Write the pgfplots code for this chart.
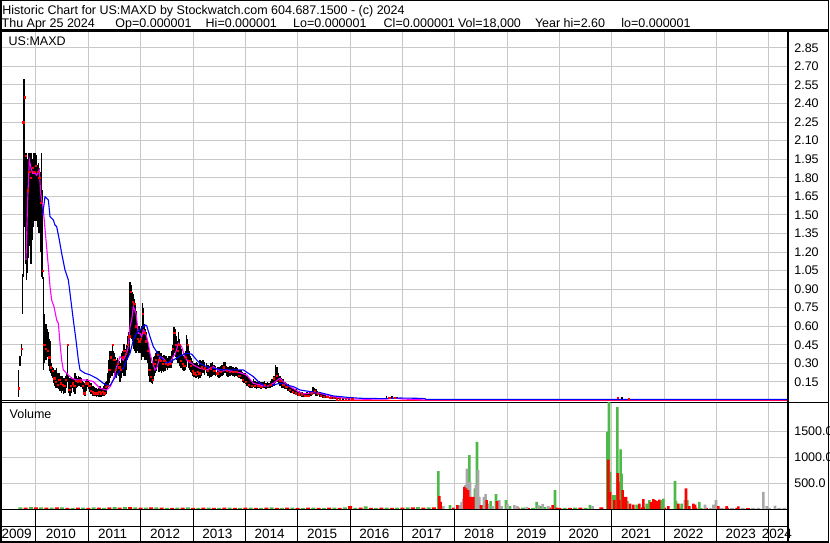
\documentclass[border=0pt]{standalone}
\usepackage{pgfplots}
\pgfplotsset{compat=1.18}
\usepackage{pgfplotstable}
\usepackage{fontspec}
\setmainfont{Liberation Sans}
\definecolor{gridgray}{RGB}{200,200,200}
\definecolor{volgreen}{RGB}{76,185,72}
\definecolor{volgray}{RGB}{168,168,168}
\definecolor{mamag}{RGB}{255,0,255}
\definecolor{mablue}{RGB}{0,0,255}

% price bars: x = year, lo, hi, cl
\pgfplotstableread{
x lo hi cl
2009.663 0.03 0.25 0.10
2009.694 0.28 0.36 0.33
2009.726 0.36 0.46 0.42
2009.745 0.70 1.02 0.80
2009.758 1.00 2.27 2.25
2009.770 1.40 2.60 2.58
2009.783 1.60 2.50 2.45
2009.796 1.14 2.00 2.00
2009.809 1.10 2.00 1.98
2009.822 0.97 2.00 1.50
2009.838 1.03 1.95 1.70
2009.854 1.15 2.00 1.98
2009.870 1.25 1.95 1.85
2009.885 1.27 2.00 1.98
2009.901 1.10 1.90 1.80
2009.917 1.35 2.00 1.98
2009.933 1.30 1.95 1.88
2009.949 1.40 2.00 1.96
2009.965 1.50 1.98 1.85
2009.981 1.45 2.00 1.98
2009.997 1.55 1.95 1.90
2010.013 1.45 1.98 1.95
2010.029 1.40 1.90 1.85
2010.045 1.50 1.92 1.82
2010.061 1.35 1.88 1.80
2010.076 1.40 1.85 1.75
2010.092 1.20 1.75 1.60
2010.108 1.00 2.00 1.45
2010.124 0.98 1.70 1.05
2010.140 0.25 1.00 0.70
2010.156 0.30 0.70 0.45
2010.172 0.33 0.62 0.55
2010.188 0.35 0.62 0.42
2010.204 0.33 0.60 0.50
2010.220 0.35 0.58 0.40
2010.236 0.33 0.55 0.45
2010.252 0.28 0.50 0.35
2010.268 0.24 0.48 0.30
2010.284 0.22 0.30 0.27
2010.299 0.20 0.28 0.25
2010.315 0.18 0.27 0.24
2010.331 0.16 0.26 0.25
2010.347 0.14 0.24 0.18
2010.363 0.12 0.25 0.20
2010.379 0.10 0.22 0.15
2010.395 0.12 0.26 0.25
2010.411 0.10 0.22 0.13
2010.427 0.09 0.20 0.15
2010.443 0.12 0.22 0.17
2010.459 0.08 0.19 0.12
2010.475 0.10 0.20 0.14
2010.490 0.06 0.18 0.10
2010.506 0.08 0.20 0.13
2010.522 0.05 0.16 0.08
2010.538 0.08 0.18 0.12
2010.554 0.06 0.15 0.10
2010.570 0.10 0.20 0.17
2010.586 0.12 0.22 0.21
2010.602 0.15 0.46 0.45
2010.618 0.10 0.20 0.15
2010.634 0.06 0.17 0.09
2010.650 0.04 0.18 0.08
2010.666 0.08 0.16 0.12
2010.682 0.06 0.19 0.10
2010.698 0.10 0.18 0.14
2010.713 0.07 0.17 0.12
2010.729 0.08 0.15 0.12
2010.745 0.05 0.22 0.10
2010.761 0.10 0.18 0.16
2010.777 0.12 0.20 0.17
2010.793 0.11 0.18 0.15
2010.809 0.12 0.20 0.18
2010.825 0.12 0.18 0.16
2010.841 0.13 0.19 0.17
2010.857 0.11 0.17 0.15
2010.873 0.12 0.18 0.16
2010.889 0.09 0.16 0.12
2010.904 0.06 0.15 0.09
2010.920 0.05 0.14 0.06
2010.936 0.04 0.12 0.06
2010.952 0.08 0.16 0.14
2010.968 0.10 0.17 0.15
2010.984 0.11 0.17 0.14
2011.000 0.10 0.16 0.13
2011.016 0.09 0.15 0.12
2011.032 0.07 0.14 0.10
2011.048 0.05 0.13 0.08
2011.064 0.06 0.14 0.09
2011.080 0.04 0.12 0.07
2011.095 0.05 0.12 0.08
2011.111 0.04 0.11 0.06
2011.127 0.05 0.10 0.08
2011.143 0.04 0.09 0.06
2011.159 0.03 0.10 0.05
2011.175 0.04 0.09 0.06
2011.191 0.03 0.08 0.05
2011.207 0.04 0.10 0.07
2011.223 0.03 0.12 0.06
2011.239 0.04 0.10 0.06
2011.255 0.03 0.09 0.05
2011.271 0.04 0.10 0.07
2011.286 0.05 0.12 0.08
2011.302 0.04 0.11 0.06
2011.318 0.06 0.14 0.10
2011.334 0.05 0.15 0.11
2011.350 0.08 0.16 0.13
2011.366 0.09 0.22 0.12
2011.382 0.12 0.25 0.20
2011.398 0.14 0.33 0.25
2011.414 0.18 0.40 0.30
2011.430 0.20 0.38 0.35
2011.446 0.22 0.40 0.38
2011.462 0.20 0.46 0.45
2011.477 0.24 0.40 0.30
2011.493 0.22 0.38 0.33
2011.509 0.20 0.35 0.28
2011.525 0.21 0.33 0.25
2011.541 0.18 0.32 0.22
2011.557 0.22 0.34 0.30
2011.573 0.20 0.30 0.25
2011.589 0.21 0.32 0.27
2011.605 0.15 0.28 0.20
2011.621 0.18 0.30 0.25
2011.637 0.20 0.38 0.30
2011.652 0.22 0.40 0.35
2011.668 0.20 0.42 0.25
2011.684 0.25 0.46 0.40
2011.700 0.20 0.40 0.30
2011.716 0.25 0.42 0.38
2011.732 0.27 0.45 0.40
2011.748 0.33 0.52 0.45
2011.764 0.35 0.50 0.48
2011.780 0.38 0.55 0.52
2011.796 0.52 0.96 0.95
2011.812 0.55 0.93 0.88
2011.828 0.50 0.90 0.85
2011.844 0.48 0.88 0.80
2011.860 0.45 0.86 0.75
2011.876 0.42 0.82 0.78
2011.891 0.40 0.78 0.70
2011.907 0.38 0.72 0.60
2011.923 0.38 0.62 0.55
2011.939 0.40 0.60 0.50
2011.955 0.40 0.58 0.52
2011.971 0.38 0.60 0.48
2011.987 0.40 0.58 0.55
2012.003 0.38 0.56 0.50
2012.019 0.33 0.60 0.55
2012.035 0.35 0.79 0.70
2012.050 0.35 0.75 0.68
2012.066 0.40 0.62 0.55
2012.082 0.33 0.58 0.50
2012.098 0.35 0.55 0.48
2012.114 0.33 0.52 0.45
2012.130 0.30 0.50 0.40
2012.146 0.25 0.46 0.35
2012.162 0.20 0.40 0.25
2012.178 0.15 0.35 0.20
2012.194 0.16 0.30 0.19
2012.210 0.14 0.28 0.18
2012.226 0.13 0.30 0.17
2012.242 0.17 0.33 0.25
2012.257 0.20 0.35 0.30
2012.273 0.22 0.36 0.28
2012.289 0.24 0.38 0.33
2012.305 0.25 0.40 0.35
2012.321 0.27 0.40 0.37
2012.337 0.25 0.38 0.30
2012.353 0.23 0.40 0.33
2012.369 0.24 0.36 0.30
2012.385 0.26 0.38 0.32
2012.401 0.22 0.35 0.28
2012.417 0.24 0.36 0.30
2012.433 0.23 0.35 0.27
2012.449 0.25 0.37 0.32
2012.464 0.24 0.34 0.28
2012.480 0.26 0.36 0.30
2012.496 0.27 0.35 0.31
2012.512 0.25 0.34 0.29
2012.528 0.27 0.36 0.32
2012.544 0.26 0.33 0.30
2012.560 0.28 0.36 0.33
2012.576 0.26 0.34 0.30
2012.592 0.28 0.40 0.36
2012.608 0.30 0.45 0.42
2012.624 0.35 0.56 0.52
2012.640 0.38 0.59 0.55
2012.656 0.40 0.58 0.48
2012.672 0.35 0.52 0.45
2012.687 0.33 0.50 0.42
2012.703 0.30 0.48 0.40
2012.719 0.32 0.55 0.50
2012.735 0.30 0.50 0.45
2012.751 0.28 0.45 0.35
2012.767 0.26 0.42 0.32
2012.783 0.27 0.38 0.33
2012.799 0.25 0.37 0.30
2012.815 0.26 0.36 0.32
2012.831 0.24 0.35 0.28
2012.847 0.25 0.38 0.33
2012.863 0.27 0.40 0.35
2012.878 0.30 0.53 0.50
2012.894 0.32 0.50 0.45
2012.910 0.28 0.45 0.38
2012.926 0.26 0.40 0.32
2012.942 0.25 0.36 0.30
2012.958 0.23 0.34 0.28
2012.974 0.22 0.33 0.26
2012.990 0.20 0.32 0.24
2013.006 0.21 0.30 0.25
2013.022 0.19 0.29 0.22
2013.038 0.20 0.30 0.24
2013.054 0.18 0.28 0.21
2013.070 0.20 0.31 0.25
2013.086 0.19 0.30 0.23
2013.102 0.17 0.28 0.20
2013.118 0.18 0.29 0.22
2013.133 0.18 0.33 0.25
2013.163 0.20 0.32 0.27
2013.193 0.22 0.33 0.28
2013.223 0.21 0.31 0.26
2013.253 0.22 0.30 0.25
2013.283 0.20 0.29 0.24
2013.313 0.18 0.28 0.21
2013.343 0.19 0.30 0.26
2013.373 0.20 0.31 0.27
2013.403 0.21 0.29 0.24
2013.433 0.20 0.28 0.23
2013.463 0.19 0.27 0.22
2013.493 0.18 0.27 0.21
2013.523 0.19 0.28 0.23
2013.553 0.20 0.29 0.25
2013.583 0.21 0.31 0.27
2013.613 0.22 0.31 0.26
2013.643 0.20 0.28 0.24
2013.673 0.19 0.27 0.22
2013.703 0.20 0.28 0.23
2013.733 0.21 0.28 0.24
2013.763 0.20 0.27 0.23
2013.793 0.19 0.26 0.22
2013.823 0.20 0.27 0.23
2013.853 0.19 0.26 0.21
2013.883 0.18 0.25 0.20
2013.913 0.17 0.25 0.19
2013.943 0.15 0.23 0.17
2013.973 0.14 0.22 0.16
2014.003 0.13 0.22 0.15
2014.033 0.12 0.20 0.14
2014.063 0.11 0.19 0.13
2014.093 0.10 0.17 0.12
2014.123 0.10 0.16 0.12
2014.153 0.11 0.17 0.13
2014.183 0.10 0.16 0.12
2014.213 0.09 0.15 0.11
2014.243 0.10 0.15 0.12
2014.273 0.10 0.16 0.12
2014.303 0.09 0.15 0.11
2014.333 0.10 0.15 0.12
2014.363 0.10 0.16 0.13
2014.393 0.09 0.14 0.11
2014.423 0.10 0.15 0.12
2014.453 0.10 0.14 0.12
2014.483 0.10 0.16 0.13
2014.513 0.11 0.17 0.14
2014.543 0.12 0.20 0.18
2014.573 0.14 0.29 0.25
2014.603 0.15 0.27 0.20
2014.633 0.13 0.22 0.18
2014.663 0.12 0.20 0.16
2014.693 0.10 0.18 0.14
2014.723 0.10 0.17 0.13
2014.753 0.09 0.15 0.11
2014.783 0.09 0.14 0.11
2014.813 0.08 0.13 0.10
2014.843 0.07 0.12 0.09
2014.873 0.06 0.11 0.08
2014.903 0.06 0.10 0.07
2014.933 0.05 0.09 0.07
2014.963 0.05 0.09 0.06
2014.993 0.04 0.08 0.06
2015.023 0.04 0.08 0.05
2015.053 0.04 0.07 0.05
2015.083 0.03 0.07 0.05
2015.113 0.03 0.06 0.04
2015.143 0.03 0.06 0.04
2015.173 0.04 0.07 0.05
2015.203 0.03 0.06 0.04
2015.233 0.04 0.07 0.05
2015.263 0.04 0.08 0.06
2015.293 0.05 0.11 0.09
2015.323 0.05 0.10 0.08
2015.353 0.04 0.09 0.07
2015.383 0.04 0.08 0.06
2015.413 0.03 0.07 0.05
2015.443 0.03 0.06 0.04
2015.473 0.02 0.05 0.04
2015.503 0.02 0.05 0.03
2015.533 0.02 0.05 0.03
2015.563 0.02 0.04 0.03
2015.593 0.02 0.04 0.03
2015.623 0.01 0.04 0.02
2015.653 0.01 0.04 0.02
2015.683 0.01 0.03 0.02
2015.713 0.01 0.03 0.02
2015.743 0.01 0.03 0.01
2015.773 0.01 0.03 0.01
2015.803 0.00 0.02 0.01
2015.863 0.00 0.02 0.01
2015.923 0.00 0.02 0.01
2015.983 0.00 0.02 0.01
2016.043 0.00 0.02 0.01
2016.700 0.01 0.035 0.02
2016.750 0.01 0.03 0.02
2016.800 0.01 0.035 0.02
2016.850 0.01 0.03 0.02
2016.900 0.01 0.03 0.02
2021.120 0.00 0.025 0.02
2021.200 0.00 0.025 0.01
2021.330 0.00 0.020 0.01
}\bars

% short moving average (magenta)
\pgfplotstableread{
x v
2009.809 1.136
2009.841 1.620
2009.873 1.944
2009.898 1.890
2009.936 1.836
2009.981 1.836
2010.013 1.820
2010.064 1.863
2010.089 1.674
2010.140 1.540
2010.191 1.297
2010.236 1.082
2010.268 0.920
2010.299 0.812
2010.344 0.759
2010.395 0.651
2010.427 0.624
2010.459 0.462
2010.490 0.327
2010.522 0.247
2010.586 0.220
2010.682 0.180
2010.777 0.166
2010.968 0.166
2011.095 0.153
2011.223 0.099
2011.350 0.085
2011.414 0.110
2011.477 0.166
2011.541 0.274
2011.605 0.354
2011.668 0.327
2011.732 0.381
2011.764 0.435
2011.796 0.597
2011.828 0.650
2011.860 0.759
2011.911 0.705
2011.955 0.543
2011.987 0.543
2012.019 0.516
2012.051 0.570
2012.082 0.556
2012.114 0.516
2012.146 0.462
2012.178 0.381
2012.210 0.327
2012.242 0.290
2012.273 0.247
2012.305 0.260
2012.369 0.354
2012.433 0.340
2012.497 0.305
2012.560 0.300
2012.624 0.360
2012.656 0.370
2012.720 0.462
2012.783 0.435
2012.847 0.345
2012.911 0.314
2012.974 0.300
2013.006 0.287
2013.133 0.260
2013.261 0.247
2013.388 0.273
2013.516 0.233
2013.643 0.247
2013.770 0.233
2013.898 0.225
2014.025 0.206
2014.153 0.139
2014.280 0.126
2014.407 0.112
2014.535 0.139
2014.662 0.180
2014.726 0.152
2014.853 0.112
2014.980 0.080
2015.108 0.053
2015.299 0.064
2015.426 0.058
2015.681 0.031
2015.999 0.012
2016.318 0.010
2016.700 0.012
2016.850 0.020
2017.000 0.012
2017.400 0.005
2024.360 0.005
}\maA

% long moving average (blue)
\pgfplotstableread{
x v
2010.127 1.500
2010.172 1.647
2010.204 1.634
2010.236 1.620
2010.268 1.486
2010.331 1.459
2010.363 1.418
2010.395 1.405
2010.446 1.297
2010.490 1.190
2010.554 1.055
2010.618 0.974
2010.650 0.866
2010.713 0.651
2010.764 0.489
2010.809 0.327
2010.841 0.247
2010.936 0.220
2011.032 0.207
2011.159 0.180
2011.223 0.160
2011.286 0.139
2011.350 0.125
2011.414 0.120
2011.477 0.166
2011.541 0.207
2011.605 0.240
2011.668 0.260
2011.732 0.327
2011.796 0.381
2011.860 0.489
2011.923 0.543
2011.987 0.570
2012.082 0.610
2012.114 0.605
2012.178 0.516
2012.242 0.435
2012.305 0.395
2012.369 0.354
2012.433 0.327
2012.496 0.300
2012.624 0.327
2012.751 0.360
2012.878 0.381
2012.974 0.375
2013.070 0.327
2013.133 0.300
2013.261 0.273
2013.388 0.260
2013.579 0.247
2013.770 0.247
2013.961 0.247
2014.153 0.193
2014.280 0.139
2014.407 0.112
2014.535 0.126
2014.662 0.139
2014.790 0.126
2014.917 0.112
2015.044 0.085
2015.235 0.072
2015.426 0.064
2015.681 0.037
2015.936 0.026
2016.191 0.018
2016.636 0.015
2016.955 0.020
2017.273 0.018
2017.433 0.015
2017.450 0.009
2024.360 0.009
}\maB

% volume, up days (green)
\pgfplotstableread{
x v
2017.687 737
2017.910 83
2018.279 1044
2018.388 404
2018.426 1300
2018.534 83
2018.687 160
2018.789 294
2018.980 179
2019.056 63
2019.566 146
2019.642 63
2019.725 50
2019.916 371
2020.585 90
2020.916 1493
2020.948 2100
2020.967 723
2021.030 275
2021.062 275
2021.107 1973
2021.171 1154
2021.190 692
2021.298 160
2021.476 96
2021.668 115
2021.718 179
2021.954 179
2021.986 211
2022.209 544
2022.228 160
2022.336 115
2022.444 179
2022.673 147
}\volG

% volume, down days (red)
\pgfplotstableread{
x v
2017.706 256
2017.731 146
2017.974 38
2018.050 83
2018.184 435
2018.215 404
2018.254 371
2018.311 243
2018.356 243
2018.502 83
2018.610 179
2018.808 160
2019.871 83
2019.948 38
2020.935 961
2020.967 338
2021.050 179
2021.115 700
2021.126 531
2021.145 179
2021.209 371
2021.234 243
2021.273 243
2021.349 115
2021.412 96
2021.527 115
2021.604 198
2021.750 147
2021.795 198
2021.826 179
2021.871 160
2021.909 192
2022.081 63
2022.272 115
2022.419 404
2022.482 63
2022.559 115
2022.591 96
2023.036 63
2023.196 63
2023.419 58
}\volR

% volume, unchanged days (gray)
\pgfplotstableread{
x v
2017.782 63
2018.088 83
2018.133 146
2018.165 210
2018.203 467
2018.235 788
2018.292 531
2018.330 179
2018.407 467
2018.445 756
2018.470 243
2018.559 243
2018.591 294
2018.642 115
2018.725 63
2018.852 179
2018.897 63
2019.005 115
2019.139 83
2019.196 63
2019.375 50
2019.598 83
2019.680 102
2019.789 63
2020.636 63
2022.400 179
2022.782 96
2022.941 96
2022.992 179
2023.896 339
2023.961 63
2024.119 76
}\volY

% small-volume days
\pgfplotstableread{
x v
2009.70 40
2009.90 45
2010.10 40
2010.30 35
2010.50 40
2010.70 30
2010.90 35
2011.10 40
2011.30 30
2011.50 45
2011.70 45
2011.90 40
2012.10 35
2012.30 40
2012.50 30
2012.70 35
2012.90 40
2013.10 30
2013.30 35
2013.50 30
2013.70 35
2013.90 30
2014.10 35
2014.30 30
2014.50 40
2014.70 30
2014.90 35
2015.10 30
2015.30 35
2015.50 30
2015.70 35
2015.90 40
2016.10 30
2016.30 60
2016.50 30
2016.70 35
2016.90 35
2017.10 40
2017.30 45
2017.50 40
2019.30 35
2019.50 30
2019.90 30
2020.10 30
2020.30 35
2020.50 30
2021.50 40
2021.90 40
2022.30 35
2022.70 30
}\volGs
\pgfplotstableread{
x v
2009.80 35
2010.00 40
2010.20 35
2010.40 40
2010.60 30
2010.80 35
2011.00 30
2011.20 35
2011.40 40
2011.60 35
2011.80 45
2012.00 35
2012.20 40
2012.40 35
2012.60 30
2012.80 35
2013.00 30
2013.20 35
2013.40 30
2013.60 35
2013.80 30
2014.00 35
2014.20 30
2014.40 35
2014.60 30
2014.80 35
2015.00 30
2015.20 35
2015.40 30
2015.60 35
2015.80 30
2016.00 65
2016.20 35
2016.40 30
2016.60 35
2016.80 30
2017.00 35
2017.20 40
2017.40 35
2017.60 40
2019.20 35
2019.40 30
2019.60 30
2019.80 35
2020.00 30
2020.20 30
2020.40 35
2020.80 40
2021.60 40
2021.80 40
2022.00 35
2022.60 35
2022.80 30
2023.00 30
2023.20 30
2023.40 30
2023.60 25
}\volRs
\pgfplotstableread{
x v
2022.90 30
2023.10 30
2023.30 30
2023.50 30
2023.70 30
2023.80 30
2024.00 30
2024.20 30
2024.30 30
}\volYs

\newcommand\tf{\fontsize{12.5}{15}\selectfont}

\begin{document}
\begin{tikzpicture}
\useasboundingbox (0pt,0pt) rectangle (830pt,543pt);
\clip (0pt,0pt) rectangle (830pt,543pt);

% ---------------- price panel ----------------
\begin{axis}[
  at={(2pt,142.5pt)}, anchor=south west,
  scale only axis, width=786pt, height=369.5pt,
  xmin=2009.3504, xmax=2024.3677, ymin=0, ymax=2.986,
  clip=false,
  axis line style={black, line width=1pt},
  xtick={2010,2011,2012,2013,2014,2015,2016,2017,2018,2019,2020,2021,2022,2023,2024},
  xticklabels={},
  ytick={0.15,0.30,0.45,0.60,0.75,0.90,1.05,1.20,1.35,1.50,1.65,1.80,1.95,2.10,2.25,2.40,2.55,2.70,2.85},
  yticklabel pos=right,
  major tick length=0pt,
  grid=major, major grid style={gridgray, line width=1pt},
  /pgf/number format/assume math mode=true,
  yticklabel style={font=\tf, xshift=2.8pt,
    /pgf/number format/fixed, /pgf/number format/fixed zerofill,
    /pgf/number format/precision=2},
]
\addplot[draw=none, mark=none, forget plot,
  error bars/.cd, y dir=both, y explicit,
  error bar style={draw=black, solid, line width=1.5pt}, error mark=none]
  table[x=x, y=cl, y error plus expr=\thisrow{hi}-\thisrow{cl},
        y error minus expr=\thisrow{cl}-\thisrow{lo}] {\bars};
\addplot[only marks, mark=square*, mark size=0.65pt, color=red, each nth point=2,
  mark options={draw=none, fill=red}] table[x=x, y=cl] {\bars};
\addplot[red, line width=1pt] coordinates {(2015.80,0) (2024.36,0)};
\addplot[mamag, line width=1.1pt] table[x=x, y=v] {\maA};
\addplot[mablue, line width=1.1pt] table[x=x, y=v] {\maB};
\end{axis}

% ---------------- volume panel ----------------
\begin{axis}[
  at={(2pt,33.5pt)}, anchor=south west,
  scale only axis, width=786pt, height=107.2pt,
  xmin=2009.3504, xmax=2024.3677, ymin=0, ymax=2061.5,
  axis line style={black, line width=1pt},
  xtick={2010,2011,2012,2013,2014,2015,2016,2017,2018,2019,2020,2021,2022,2023,2024},
  xticklabels={},
  ytick={500,1000,1500},
  yticklabel pos=right,
  scaled y ticks=false,
  major tick length=0pt,
  grid=major, major grid style={gridgray, line width=1pt},
  /pgf/number format/assume math mode=true,
  yticklabel style={font=\tf, xshift=2.8pt,
    /pgf/number format/fixed, /pgf/number format/fixed zerofill,
    /pgf/number format/precision=1, /pgf/number format/1000 sep={}},
  ybar, bar shift=0pt,
]
\addplot[ybar, bar shift=0pt, bar width=4pt, fill=volgreen, draw=none] table[x=x,y=v] {\volGs};
\addplot[ybar, bar shift=0pt, bar width=4pt, fill=red, draw=none] table[x=x,y=v] {\volRs};
\addplot[ybar, bar shift=0pt, bar width=4pt, fill=volgray, draw=none] table[x=x,y=v] {\volYs};
\addplot[ybar, bar shift=0pt, bar width=2.6pt, fill=volgreen, draw=none] table[x=x,y=v] {\volG};
\addplot[ybar, bar shift=0pt, bar width=2.6pt, fill=volgray, draw=none] table[x=x,y=v] {\volY};
\addplot[ybar, bar shift=0pt, bar width=2.6pt, fill=red, draw=none] table[x=x,y=v] {\volR};
\end{axis}

% ---------------- date band ----------------
\begin{axis}[
  at={(2pt,0.75pt)}, anchor=south west,
  scale only axis, width=786pt, height=32.75pt,
  xmin=2009.3504, xmax=2024.3677, ymin=0, ymax=32.75,
  axis line style={black, line width=1pt},
  xtick={2010,2011,2012,2013,2014,2015,2016,2017,2018,2019,2020,2021,2022,2023,2024},
  xticklabels={},
  ytick=\empty,
  xmajorgrids, major grid style={black, line width=1pt},
  major tick length=0pt,
  extra y ticks={15.25}, extra y tick labels={},
  extra y tick style={ymajorgrids=true, major grid style={black, line width=1pt}},
  extra x ticks={2009.63,2010.474,2011.465,2012.465,2013.465,2014.465,2015.465,2016.465,2017.465,2018.465,2019.465,2020.465,2021.465,2022.465,2023.465,2024.157},
  extra x tick labels={2009,2010,2011,2012,2013,2014,2015,2016,2017,2018,2019,2020,2021,2022,2023,2024},
  extra x tick style={xmajorgrids=false, xticklabel style={anchor=south, font=\fontsize{13.5}{15}\selectfont}},
]
\end{axis}

% ---------------- frame and header ----------------
\draw[line width=1.5pt] (0.75pt,0.75pt) rectangle (828.25pt,542.25pt);
\draw[line width=2pt] (1pt,0pt) -- (1pt,543pt);
\draw[line width=2.4pt] (0pt,512.5pt) -- (829pt,512.5pt);
\draw[line width=2pt] (788pt,0pt) -- (788pt,512.5pt);
\draw[line width=1pt] (788pt,140.7pt) -- (829pt,140.7pt);

\node[anchor=base west, inner sep=0pt, font=\tf] at (2.2pt,528pt)
  {Historic Chart for US:MAXD by Stockwatch.com 604.687.1500 - (c) 2024};
\node[anchor=base west, inner sep=0pt, font=\tf] at (1.5pt,515.7pt) {Thu Apr 25 2024};
\node[anchor=base west, inner sep=0pt, font=\tf] at (115.2pt,515.7pt) {Op=0.000001};
\node[anchor=base west, inner sep=0pt, font=\tf] at (205.5pt,515.7pt) {Hi=0.000001};
\node[anchor=base west, inner sep=0pt, font=\tf] at (293pt,515.7pt) {Lo=0.000001};
\node[anchor=base west, inner sep=0pt, font=\tf] at (383.5pt,515.7pt) {Cl=0.000001};
\node[anchor=base west, inner sep=0pt, font=\tf] at (457.8pt,515.7pt) {Vol=18,000};
\node[anchor=base west, inner sep=0pt, font=\tf] at (534.8pt,515.7pt) {Year hi=2.60};
\node[anchor=base west, inner sep=0pt, font=\tf] at (621.2pt,515.7pt) {lo=0.000001};
\node[anchor=base west, inner sep=0pt, font=\tf] at (8.5pt,497.3pt) {US:MAXD};
\node[anchor=base west, inner sep=0pt, font=\tf] at (9.5pt,124.7pt) {Volume};
\end{tikzpicture}
\end{document}
